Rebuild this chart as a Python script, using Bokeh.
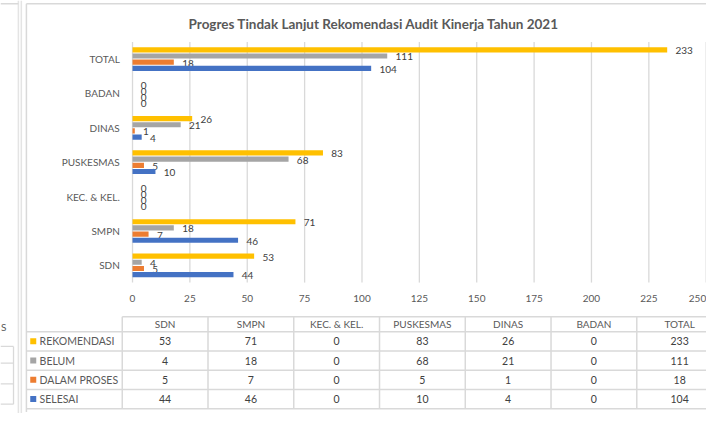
from bokeh.plotting import figure
from bokeh.models import Range1d, ColumnDataSource
from bokeh.core.properties import value
from bokeh.embed import file_html
from bokeh.resources import INLINE

# ---------------- data ----------------
categories = ["SDN", "SMPN", "KEC. & KEL.", "PUSKESMAS", "DINAS", "BADAN", "TOTAL"]
series_names = ["REKOMENDASI", "BELUM", "DALAM PROSES", "SELESAI"]
rekomendasi = [53, 71, 0, 83, 26, 0, 233]
belum = [4, 18, 0, 68, 21, 0, 111]
dalam_proses = [5, 7, 0, 5, 1, 0, 18]
selesai = [44, 46, 0, 10, 4, 0, 104]
x_ticks = [0, 25, 50, 75, 100, 125, 150, 175, 200, 225, 250]
series_colors = ["#FFC000", "#A5A5A5", "#ED7D31", "#4472C4"]
chart_title = "Progres Tindak Lanjut Rekomendasi Audit Kinerja Tahun 2021"

series_values = [rekomendasi, belum, dalam_proses, selesai]

# ---------------- style / layout constants ----------------
FONT = "Lato"
TXT = "#595959"
VAL = "#404040"
BORDER = "#d9d9d9"
W, H = 706, 413
SX, SY = W / 722, H / 429          # reference-to-canvas scale

def cx(v):
    return v * SX

def cy(v):
    return v * SY

PL, PR, PT, PBt = cx(135), cx(721.7), cy(43), cy(293)   # bar plot area
XMAX = 250
ncat = len(categories)
nser = len(series_names)
ppx = (PR - PL) / XMAX
ppy = (PBt - PT) / ncat
offsets = [0.27, 0.09, -0.09, -0.27]
bar_h = 0.15

# table layout
T_COL0, T_COLW, T_LEG_L = cx(124.5), cx(87.7), cx(27)
T_BOTTOM, T_ROWH, T_HEAD_TOP = cy(424), cy(20), cy(328.5)

p = figure(width=W, height=H,
           x_range=Range1d(-PL / ppx, (W - PL) / ppx),
           y_range=Range1d(-(H - PBt) / ppy, ncat + PT / ppy),
           x_axis_location=None, y_axis_location=None, min_border=0,
           output_backend="svg", toolbar_location=None)
p.extra_x_ranges = {
    "tx": Range1d(-T_COL0 / T_COLW, (W - T_COL0) / T_COLW),
    "rx": Range1d(0, W / SX),
}
p.extra_y_ranges = {
    "ty": Range1d(-(H - T_BOTTOM) / T_ROWH, T_BOTTOM / T_ROWH),
    "ry": Range1d(H / SY, 0),
}
p.outline_line_color = None
p.grid.visible = False
p.background_fill_color = "white"
p.border_fill_color = "white"

# ---------------- panel borders (reference pixel frame) ----------------
p.segment(x0=[18.3, 21.3], x1=[18.3, 21.3], y0=[0, 0], y1=[440, 440],
          line_color="#e4e4e4", line_width=1.5, x_range_name="rx", y_range_name="ry")
p.segment(x0=[26.5, 26.5, 0], x1=[26.5, 730, 18.3], y0=[3.3, 3.3, 3.3], y1=[427.5, 3.3, 3.3],
          line_color=BORDER, line_width=1.5, x_range_name="rx", y_range_name="ry")
fy = [359.3, 376.7, 398.3, 419.3]
p.segment(x0=[0] * 4, x1=[13.3] * 4, y0=fy, y1=fy,
          line_color=BORDER, line_width=1.3, x_range_name="rx", y_range_name="ry")
p.segment(x0=[13.3], x1=[13.3], y0=[359.3], y1=[419.3],
          line_color=BORDER, line_width=1.3, x_range_name="rx", y_range_name="ry")
p.text(x=[6], y=[339], text=["S"], text_align="right", text_baseline="middle",
       text_font=value(FONT), text_font_size="10px", text_color=TXT,
       x_range_name="rx", y_range_name="ry")

# ---------------- bar chart ----------------
p.segment(x0=x_ticks, x1=x_ticks, y0=[0] * len(x_ticks), y1=[ncat] * len(x_ticks),
          line_color=BORDER, line_width=1.3)
tick_src = ColumnDataSource(dict(
    x=x_ticks, y=[0] * len(x_ticks), t=[str(t) for t in x_ticks],
    a=["right" if t >= XMAX else "center" for t in x_ticks],
))
p.text(x="x", y="y", text="t", text_align="a", source=tick_src,
       y_offset=cy(17), text_baseline="middle",
       text_font=value(FONT), text_font_size="10px", text_color=TXT)
cat_y = [i + 0.5 for i in range(ncat)]
p.text(x=[0] * ncat, y=cat_y, text=categories, x_offset=-cx(13),
       text_align="right", text_baseline="middle",
       text_font=value(FONT), text_font_size="10px", text_color=TXT)

keys = ["rek", "bel", "dal", "sel"]
for k, vals, col, off in zip(keys, series_values, series_colors, offsets):
    src = ColumnDataSource(dict(
        y=[i + 0.5 + off for i in range(ncat)],
        v=vals,
        t=[str(v) for v in vals],
    ))
    p.hbar(y="y", left=0, right="v", height=bar_h,
           fill_color=col, line_color=None, source=src)
    p.text(x="v", y="y", text="t", x_offset=cx(8.5), y_offset=1,
           text_align="left", text_baseline="middle",
           text_font=value(FONT), text_font_size="10px", text_color=VAL,
           source=src)

p.text(x=[105.2], y=[ncat], text=[chart_title], y_offset=-cy(19),
       text_align="center", text_baseline="middle",
       text_font=value(FONT), text_font_size="13.5px", text_font_style="bold",
       text_color=TXT)

# ---------------- data table ----------------
head_top = (T_BOTTOM - T_HEAD_TOP) / T_ROWH
leg_left = (T_LEG_L - T_COL0) / T_COLW
hy = [float(r) for r in range(nser + 1)]
p.segment(x0=[leg_left] * len(hy), x1=[ncat] * len(hy), y0=hy, y1=hy,
          line_color=BORDER, line_width=1.5, x_range_name="tx", y_range_name="ty")
p.segment(x0=[0], x1=[ncat], y0=[head_top], y1=[head_top],
          line_color=BORDER, line_width=1.5, x_range_name="tx", y_range_name="ty")
vx = [float(c) for c in range(ncat + 1)]
p.segment(x0=vx, x1=vx, y0=[0] * len(vx), y1=[head_top] * len(vx),
          line_color=BORDER, line_width=1.5, x_range_name="tx", y_range_name="ty")

col_x = [i + 0.5 for i in range(ncat)]
p.text(x=col_x, y=[nser + (head_top - nser) / 2] * ncat, text=categories,
       text_align="center", text_baseline="middle", text_font=value(FONT),
       text_font_size="10px", text_color=TXT, x_range_name="tx", y_range_name="ty")
tx, ty, tt = [], [], []
for s, vals in enumerate(series_values):
    for i, v in enumerate(vals):
        tx.append(i + 0.5)
        ty.append(nser - 0.5 - s)
        tt.append(str(v))
p.text(x=tx, y=ty, text=tt, text_align="center", text_baseline="middle",
       text_font=value(FONT), text_font_size="10.5px", text_color=VAL,
       x_range_name="tx", y_range_name="ty")
ly = [nser - 0.5 - s for s in range(nser)]
p.scatter(x=[leg_left + 0.074] * nser, y=ly, marker="square", size=6,
          fill_color=series_colors, line_color=None,
          x_range_name="tx", y_range_name="ty")
p.text(x=[leg_left + 0.148] * nser, y=ly, text=series_names, text_align="left",
       text_baseline="middle", text_font=value(FONT), text_font_size="10.5px",
       text_color=TXT, x_range_name="tx", y_range_name="ty")

open("out.html", "w").write(file_html(p, INLINE))
